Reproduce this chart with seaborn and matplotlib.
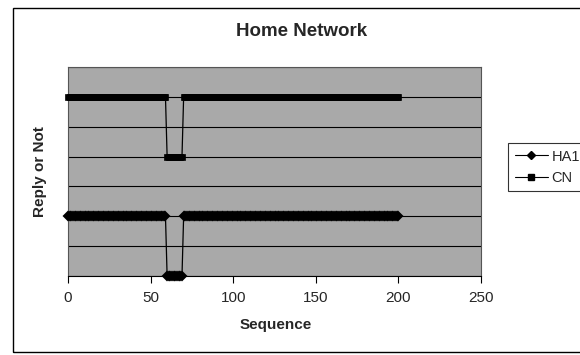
import numpy as np
import pandas as pd
import matplotlib
matplotlib.use("Agg")
import matplotlib.pyplot as plt
from matplotlib.lines import Line2D
from matplotlib.patches import Rectangle
import seaborn as sns

# Reply trace per sequence number (CN drawn on the upper band, HA1 on the lower band)
sequence = list(range(0, 201))
cn_values = [3] * 60 + [2] * 10 + [3] * 131
ha1_values = [1] * 60 + [0] * 10 + [1] * 131
series_names = ["HA1", "CN"]
x_ticks = [0, 50, 100, 150, 200, 250]

df = pd.DataFrame({
    "Sequence": sequence * 2,
    "Value": ha1_values + cn_values,
    "Series": ["HA1"] * len(sequence) + ["CN"] * len(sequence),
})

sns.set_style("white")
plt.rcParams["font.family"] = ["Liberation Sans", "DejaVu Sans"]

W, H = 580, 355
fig = plt.figure(figsize=(W / 100, H / 100), dpi=100)
fig.patch.set_facecolor("white")

ax = fig.add_axes([68 / W, 1 - 276 / H, (481 - 68) / W, (276 - 67) / H])
ax.set_facecolor("#a9a9a9")

sns.lineplot(
    data=df[df["Series"] == "HA1"], x="Sequence", y="Value",
    marker="D", color="black", markersize=3.6, markeredgecolor="black",
    markeredgewidth=1.5, linewidth=0.9, estimator=None, legend=False,
    ax=ax, clip_on=False, zorder=3,
)
sns.lineplot(
    data=df[df["Series"] == "CN"], x="Sequence", y="Value",
    marker="s", color="black", markersize=4.0, markeredgecolor="black",
    markeredgewidth=0.5, linewidth=0.9, estimator=None, legend=False,
    ax=ax, clip_on=False, zorder=3,
)

ax.set_xlim(0, 250)
ax.set_ylim(0, 3.5)
ax.set_xticks(x_ticks)
ax.set_yticks(np.arange(0, 3.51, 0.5))
ax.set_yticklabels([])
ax.yaxis.grid(True, color="black", linewidth=0.8)
ax.xaxis.grid(False)
ax.set_axisbelow(True)
ax.tick_params(axis="x", direction="out", length=5, width=0.8, color="black",
               labelsize=11, pad=6, bottom=True)
ax.tick_params(axis="y", length=0)
ax.set_xlabel("")
ax.set_ylabel("")
for side, sp in ax.spines.items():
    sp.set_color("#555555")
    sp.set_linewidth(0.8)
ax.spines["bottom"].set_color("black")

fig.text(302 / W, 1 - 32 / H, "Home Network", ha="center", va="center",
         fontsize=13.5, fontweight="bold")
fig.text(276 / W, 1 - 325 / H, "Sequence", ha="center", va="center",
         fontsize=11, fontweight="bold")
fig.text(40 / W, 1 - 172 / H, "Reply or Not", ha="center", va="center",
         rotation=90, fontsize=11, fontweight="bold")

# Chart area border
fig.add_artist(Rectangle((13 / W, 1 - 352 / H), 1.0, (352 - 8) / H,
                         transform=fig.transFigure, fill=False,
                         edgecolor="black", linewidth=1.0))

handles = [
    Line2D([], [], color="black", marker="D", markersize=4, linewidth=0.8),
    Line2D([], [], color="black", marker="s", markersize=4, linewidth=0.8),
]
leg = fig.legend(handles, series_names, loc="upper left",
                 bbox_to_anchor=(508 / W, 1 - 143 / H), frameon=True,
                 fancybox=False, edgecolor="black", fontsize=10.5,
                 borderaxespad=0, handlelength=2.3, handletextpad=0.25,
                 labelspacing=0.5, borderpad=0.45)
leg.get_frame().set_linewidth(0.8)

fig.savefig("out.png", dpi=100)
